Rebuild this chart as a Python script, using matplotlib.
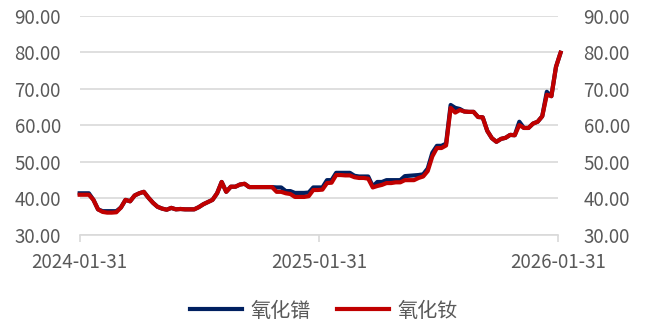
import pandas as pd
import matplotlib
matplotlib.use("Agg")
import matplotlib.pyplot as plt

plt.rcParams['font.family'] = ['Noto Sans CJK SC', 'DejaVu Sans']

# weekly prices, starting 2024-01-31
start = "2024-01-31"
n_weeks = 106

nd_oxide = [
    41.0, 41.0, 41.0, 39.6, 37.0, 36.3, 36.1, 36.1, 36.2, 37.5,
    39.6, 39.2, 40.8, 41.4, 41.8, 40.2, 38.8, 37.7, 37.2, 36.9,
    37.4, 37.0, 37.1, 37.0, 37.0, 37.0, 37.6, 38.4, 39.0, 39.6,
    41.4, 44.5, 41.8, 43.2, 43.2, 43.8, 44.0, 43.1, 43.1, 43.1,
    43.1, 43.1, 43.1, 41.8, 41.8, 41.4, 41.2, 40.4, 40.4, 40.4,
    40.6, 42.3, 42.3, 42.4, 44.2, 44.3, 46.4, 46.4, 46.3, 46.3,
    45.8, 45.6, 45.6, 45.4, 43.0, 43.4, 43.7, 44.2, 44.2, 44.4,
    44.4, 45.0, 45.0, 45.0, 45.6, 46.0, 47.5, 51.5, 53.8, 53.8,
    54.5, 64.8, 63.5, 64.2, 63.8, 63.7, 63.7, 62.3, 62.2, 58.5,
    56.5, 55.5, 56.3, 56.6, 57.4, 57.3, 60.1, 59.3, 59.3, 60.5,
    61.0, 62.5, 68.4, 68.0, 76.0, 79.9,
]

pr_oxide = [
    41.4, 41.4, 41.4, 39.6, 37.0, 36.5, 36.5, 36.5, 36.5, 37.5,
    39.6, 39.2, 40.8, 41.4, 41.8, 40.2, 38.8, 37.7, 37.2, 36.9,
    37.4, 37.0, 37.1, 37.0, 37.0, 37.0, 37.6, 38.4, 39.0, 39.6,
    41.4, 44.5, 41.8, 43.2, 43.2, 43.8, 44.0, 43.1, 43.1, 43.1,
    43.1, 43.1, 43.1, 43.0, 43.0, 42.0, 42.0, 41.5, 41.5, 41.5,
    41.6, 43.0, 43.0, 43.0, 45.0, 45.0, 47.0, 47.0, 47.0, 47.0,
    46.2, 46.0, 46.0, 46.0, 43.3, 44.5, 44.5, 45.0, 45.0, 45.0,
    45.0, 46.1, 46.2, 46.3, 46.4, 46.6, 48.2, 52.5, 54.4, 54.4,
    55.0, 65.6, 64.8, 64.5, 63.8, 63.7, 63.7, 62.3, 62.2, 58.5,
    56.5, 55.5, 56.3, 56.6, 57.4, 57.3, 61.0, 59.3, 59.3, 60.5,
    61.0, 62.5, 69.2, 68.0, 76.0, 79.9,
]

tick_dates = ["2024-01-31", "2025-01-31", "2026-01-31"]
y_ticks = [30, 40, 50, 60, 70, 80, 90]

dates = pd.date_range(start, periods=n_weeks, freq="7D")
ticks = pd.to_datetime(tick_dates)

fig = plt.figure(figsize=(6.48, 3.24), dpi=100)
ax = fig.add_axes([0.123, 0.275, 0.738, 0.676])

ax.plot(dates, pr_oxide, color="#002060", lw=3.0, label="氧化镨", clip_on=False,
        solid_joinstyle="round")
ax.plot(dates, nd_oxide, color="#C00000", lw=3.0, label="氧化钕", clip_on=False,
        solid_joinstyle="round")

ax.set_ylim(30, 90)
ax.set_yticks(y_ticks)
ax.set_xlim(ticks[0], ticks[-1])
ax.set_xticks(ticks)
ax.set_xticklabels(tick_dates)

ax.grid(axis="y", color="#d9d9d9", lw=1.2)
ax.set_axisbelow(True)
for s in ["top", "right", "left"]:
    ax.spines[s].set_visible(False)
ax.spines["bottom"].set_color("#d9d9d9")
ax.spines["bottom"].set_linewidth(1.2)

ax.tick_params(axis="x", colors="#d9d9d9", length=5, width=1.2,
               labelcolor="#595959", labelsize=13.5, pad=7)
ax.tick_params(axis="y", length=0, labelcolor="#595959", labelsize=13.5, pad=13.5)
ax.yaxis.set_major_formatter(plt.FuncFormatter(lambda v, p: f"{v:.2f}"))

# mirrored axis on the right
ax2 = ax.twinx()
ax2.set_ylim(30, 90)
ax2.set_yticks(y_ticks)
ax2.yaxis.set_major_formatter(plt.FuncFormatter(lambda v, p: f"{v:.2f}"))
ax2.tick_params(axis="y", length=0, labelcolor="#595959", labelsize=13.5, pad=18.5)
for s in ax2.spines.values():
    s.set_visible(False)

fig.legend(*ax.get_legend_handles_labels(), loc="center", bbox_to_anchor=(0.5, 0.04),
           ncol=2, frameon=False, fontsize=14.5, handlelength=2.6, handletextpad=0.4,
           columnspacing=1.3, labelcolor="#595959")

fig.savefig("out.png", dpi=100)
